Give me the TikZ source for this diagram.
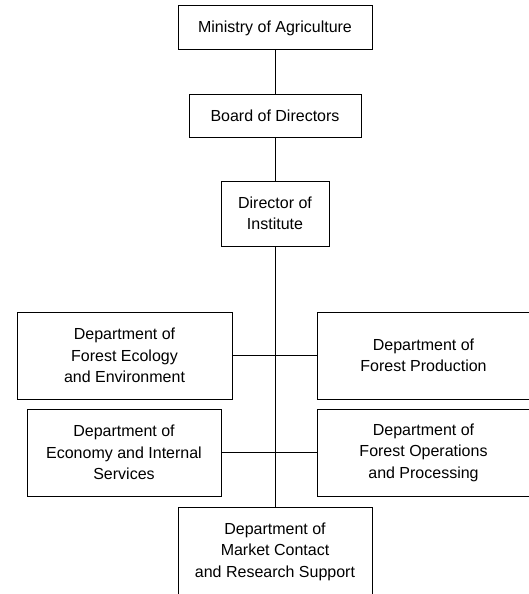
\documentclass[tikz,border=0pt]{standalone}
\usepackage{fontspec}
\setmainfont{Liberation Sans}
\begin{document}
\begin{tikzpicture}[x=1pt,y=-1pt,
  box/.style={draw=black,line width=1pt,inner sep=0pt,align=center,
    font=\fontsize{16}{21.5}\selectfont},
  link/.style={draw=black,line width=1pt}]
\useasboundingbox (0,0) rectangle (529,594);
\clip (0,0) rectangle (529,594);
\node[box,minimum width=194pt,minimum height=44pt] (min) at (275,28) {Ministry of Agriculture};
\node[box,minimum width=172pt,minimum height=43pt] (board) at (275,115.5) {Board of Directors};
\node[box,minimum width=108pt,minimum height=65pt] (dir) at (275,213.5) {Director of\\Institute};
\node[box,minimum width=215pt,minimum height=87pt] (eco) at (124.5,355.5) {Department of\\Forest Ecology\\and Environment};
\node[box,minimum width=213pt,minimum height=87pt] (prod) at (423.5,355.5) {Department of\\Forest Production};
\node[box,minimum width=194pt,minimum height=87pt] (econ) at (124,452.5) {Department of\\Economy and Internal\\Services};
\node[box,minimum width=213pt,minimum height=87pt] (ops) at (423.5,452.5) {Department of\\Forest Operations\\and Processing};
\node[box,minimum width=194pt,minimum height=89pt] (mkt) at (275,551.5) {Department of\\Market Contact\\and Research Support};
\draw[link] (min.south) -- (board.north);
\draw[link] (board.south) -- (dir.north);
\draw[link] (dir.south) -- (mkt.north);
\draw[link] (eco.east) -- (prod.west);
\draw[link] (econ.east) -- (ops.west);
\end{tikzpicture}
\end{document}
